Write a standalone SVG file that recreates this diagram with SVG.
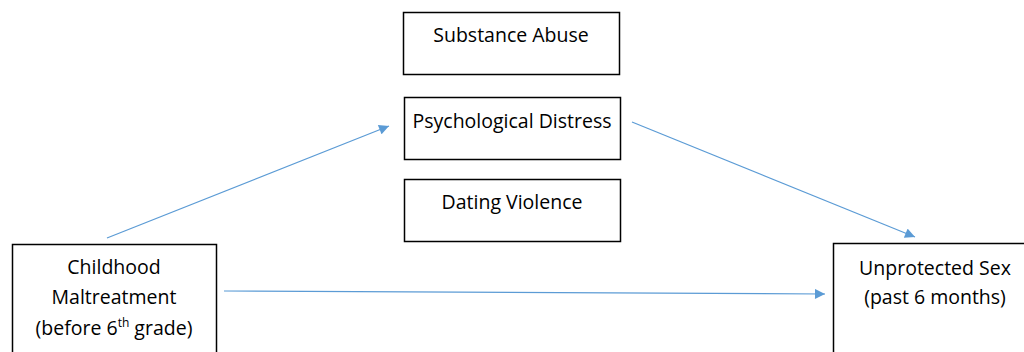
<svg xmlns="http://www.w3.org/2000/svg" width="1024" height="352" viewBox="0 0 1024 352">
<style>
.box{fill:#fff;stroke:#000;stroke-width:1.5}
.lbl{font-family:"Open Sans","Liberation Sans",sans-serif;font-size:19.5px;fill:#000;text-anchor:middle}
.conn{stroke:#5B9BD5;stroke-width:1.2;fill:none}
</style>
<defs>
<marker id="arr" viewBox="0 0 10 10" refX="10" refY="5" markerWidth="12" markerHeight="10" markerUnits="userSpaceOnUse" orient="auto">
<path d="M0,0 L10,5 L0,10 z" fill="#5B9BD5"/>
</marker>
</defs>
<rect width="1024" height="352" fill="#fff"/>
<g id="connectors">
<line class="conn" x1="107" y1="238" x2="389" y2="126" marker-end="url(#arr)"/>
<line class="conn" x1="632" y1="122" x2="915" y2="237" marker-end="url(#arr)"/>
<line class="conn" x1="224" y1="291" x2="825" y2="294" marker-end="url(#arr)"/>
</g>
<g id="substance-abuse">
<rect class="box" x="403.5" y="12.5" width="216" height="62"/>
<text class="lbl" x="511" y="42">Substance Abuse</text>
</g>
<g id="psychological-distress">
<rect class="box" x="404.5" y="97.5" width="216" height="62"/>
<text class="lbl" x="512" y="128">Psychological Distress</text>
</g>
<g id="dating-violence">
<rect class="box" x="404.5" y="179.5" width="216" height="62"/>
<text class="lbl" x="512" y="209">Dating Violence</text>
</g>
<g id="childhood-maltreatment">
<rect class="box" x="12.5" y="244.5" width="204" height="120"/>
<text class="lbl" x="114" y="274">Childhood</text>
<text class="lbl" x="114" y="304">Maltreatment</text>
<text class="lbl" x="114" y="335">(before 6<tspan font-size="12" dy="-8">th</tspan><tspan dy="8"> grade)</tspan></text>
</g>
<g id="unprotected-sex">
<rect class="box" x="833.5" y="243.5" width="200" height="120"/>
<text class="lbl" x="935" y="275">Unprotected Sex</text>
<text class="lbl" x="935" y="304">(past 6 months)</text>
</g>
</svg>
